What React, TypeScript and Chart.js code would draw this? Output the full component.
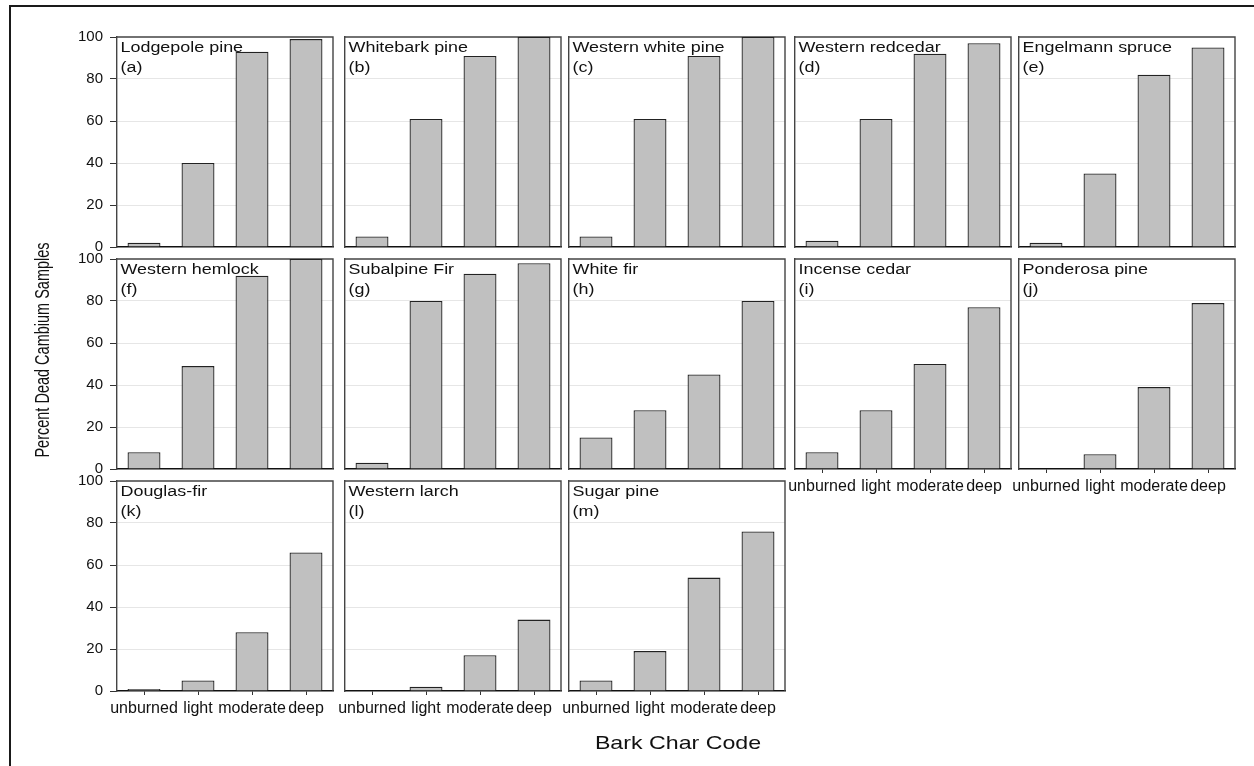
import React, { useEffect, useRef } from 'react';
import { Chart, registerables } from 'chart.js';

Chart.register(...registerables);

const FONT = '"Liberation Sans", Arial, Helvetica, sans-serif';

// ---- data ----
const CHAR_CODES = ['unburned', 'light', 'moderate', 'deep'];
const Y_MIN = 0;
const Y_MAX = 100;
const Y_STEP = 20;

const LODGEPOLE_PINE = [2, 40, 93, 99];
const WHITEBARK_PINE = [5, 61, 91, 100];
const WESTERN_WHITE_PINE = [5, 61, 91, 100];
const WESTERN_REDCEDAR = [3, 61, 92, 97];
const ENGELMANN_SPRUCE = [2, 35, 82, 95];
const WESTERN_HEMLOCK = [8, 49, 92, 100];
const SUBALPINE_FIR = [3, 80, 93, 98];
const WHITE_FIR = [15, 28, 45, 80];
const INCENSE_CEDAR = [8, 28, 50, 77];
const PONDEROSA_PINE = [0, 7, 39, 79];
const DOUGLAS_FIR = [1, 5, 28, 66];
const WESTERN_LARCH = [0, 2, 17, 34];
const SUGAR_PINE = [5, 19, 54, 76];

const SPECIES = [
  'Lodgepole pine', 'Whitebark pine', 'Western white pine', 'Western redcedar', 'Engelmann spruce',
  'Western hemlock', 'Subalpine Fir', 'White fir', 'Incense cedar', 'Ponderosa pine',
  'Douglas-fir', 'Western larch', 'Sugar pine',
];
const LETTERS = ['(a)', '(b)', '(c)', '(d)', '(e)', '(f)', '(g)', '(h)', '(i)', '(j)', '(k)', '(l)', '(m)'];
const SERIES = [
  LODGEPOLE_PINE, WHITEBARK_PINE, WESTERN_WHITE_PINE, WESTERN_REDCEDAR, ENGELMANN_SPRUCE,
  WESTERN_HEMLOCK, SUBALPINE_FIR, WHITE_FIR, INCENSE_CEDAR, PONDEROSA_PINE,
  DOUGLAS_FIR, WESTERN_LARCH, SUGAR_PINE,
];

const Y_TITLE = 'Percent Dead Cambium Samples';
const X_TITLE = 'Bark Char Code';

// ---- layout ----
const COL_LEFT = [117, 345, 569, 795, 1019];
const ROW_TOP = [37, 258.5, 481];
const PLOT_W = 216;
const PLOT_H = 210;
const YW = 40;
const XH = 32;
const PT = 20;
const PR = 4;

const panelDecor = {
  id: 'panelDecor',
  beforeDatasetsDraw(chart: any) {
    const { ctx, chartArea } = chart;
    ctx.save();
    ctx.strokeStyle = '#444';
    ctx.lineWidth = 1.4;
    ctx.beginPath();
    ctx.moveTo(chartArea.left, chartArea.top);
    ctx.lineTo(chartArea.right, chartArea.top);
    ctx.lineTo(chartArea.right, chartArea.bottom);
    ctx.stroke();
    ctx.restore();
  },
  afterDatasetsDraw(chart: any, _args: any, opts: any) {
    const { ctx, chartArea } = chart;
    ctx.save();
    ctx.fillStyle = '#111';
    ctx.font = `14px ${FONT}`;
    ctx.textBaseline = 'alphabetic';
    ctx.textAlign = 'left';
    ctx.translate(chartArea.left + 3.5, chartArea.top + 15);
    ctx.scale(1.28, 1);
    ctx.fillText(opts.species, 0, 0);
    ctx.fillText(opts.letter, 0, 20);
    ctx.restore();
  },
};

function Panel({ index }: { index: number }) {
  const ref = useRef<HTMLCanvasElement | null>(null);
  const row = Math.floor(index / 5);
  const col = index % 5;
  const showY = col === 0;
  const showX = index >= 8;
  const W = YW + PLOT_W + PR;
  const H = PT + PLOT_H + XH;

  useEffect(() => {
    if (!ref.current) return;
    const chart = new Chart(ref.current, {
      type: 'bar',
      data: {
        labels: CHAR_CODES,
        datasets: [
          {
            data: SERIES[index],
            backgroundColor: '#c0c0c0',
            borderColor: '#222',
            borderWidth: 1.3,
            barPercentage: 0.61,
            categoryPercentage: 1,
          },
        ],
      },
      options: {
        responsive: false,
        animation: false,
        events: [],
        layout: { padding: { top: PT, right: PR, left: 0, bottom: 0 } },
        plugins: {
          legend: { display: false },
          tooltip: { enabled: false },
          title: { display: false },
          panelDecor: { species: SPECIES[index], letter: LETTERS[index] },
        } as any,
        scales: {
          x: {
            grid: {
              display: true,
              offset: false,
              drawOnChartArea: false,
              drawTicks: showX,
              tickLength: 4,
              color: '#333',
            },
            border: { display: true, color: '#111', width: 1.5 },
            ticks: {
              display: showX,
              autoSkip: false,
              maxRotation: 0,
              minRotation: 0,
              padding: 4,
              color: '#111',
              font: { family: FONT, size: 16 },
            },
            afterFit: (s: any) => {
              s.height = XH;
            },
          },
          y: {
            min: Y_MIN,
            max: Y_MAX,
            grid: {
              display: true,
              drawTicks: showY,
              tickLength: 7,
              tickColor: '#333',
              color: (c: any) =>
                c.tick && c.tick.value > Y_MIN && c.tick.value < Y_MAX ? '#e6e6e6' : 'rgba(0,0,0,0)',
              lineWidth: 1,
            },
            border: { display: true, color: '#444', width: 1.4 },
            ticks: {
              display: showY,
              stepSize: Y_STEP,
              padding: 7,
              color: '#111',
              font: { family: FONT, size: 15 },
            },
            afterFit: (s: any) => {
              s.width = YW;
            },
          },
        },
      },
      plugins: [panelDecor],
    } as any);
    return () => chart.destroy();
  }, [index]);

  return (
    <canvas
      ref={ref}
      width={W}
      height={H}
      style={{
        position: 'absolute',
        left: COL_LEFT[col] - YW,
        top: ROW_TOP[row] - PT,
        width: W,
        height: H,
      }}
    />
  );
}

export default function App() {
  return (
    <div
      style={{
        position: 'fixed',
        left: 0,
        top: 0,
        width: 1254,
        height: 766,
        overflow: 'hidden',
        background: '#fff',
      }}
    >
      <div
        style={{
          position: 'absolute',
          left: 9,
          top: 5,
          width: 1400,
          height: 900,
          borderLeft: '2.5px solid #1a1a1a',
          borderTop: '2px solid #1a1a1a',
        }}
      />
      {SERIES.map((_, i) => (
        <Panel key={i} index={i} />
      ))}
      <div
        style={{
          position: 'absolute',
          left: 42,
          top: 350,
          whiteSpace: 'nowrap',
          fontFamily: FONT,
          fontSize: 14.5,
          color: '#111',
          transform: 'translate(-50%, -50%) rotate(-90deg) scaleY(1.45)',
        }}
      >
        {Y_TITLE}
      </div>
      <div
        style={{
          position: 'absolute',
          left: 678,
          top: 742.5,
          whiteSpace: 'nowrap',
          fontFamily: FONT,
          fontSize: 19,
          color: '#111',
          transform: 'translate(-50%, -50%) scaleX(1.22)',
        }}
      >
        {X_TITLE}
      </div>
    </div>
  );
}
